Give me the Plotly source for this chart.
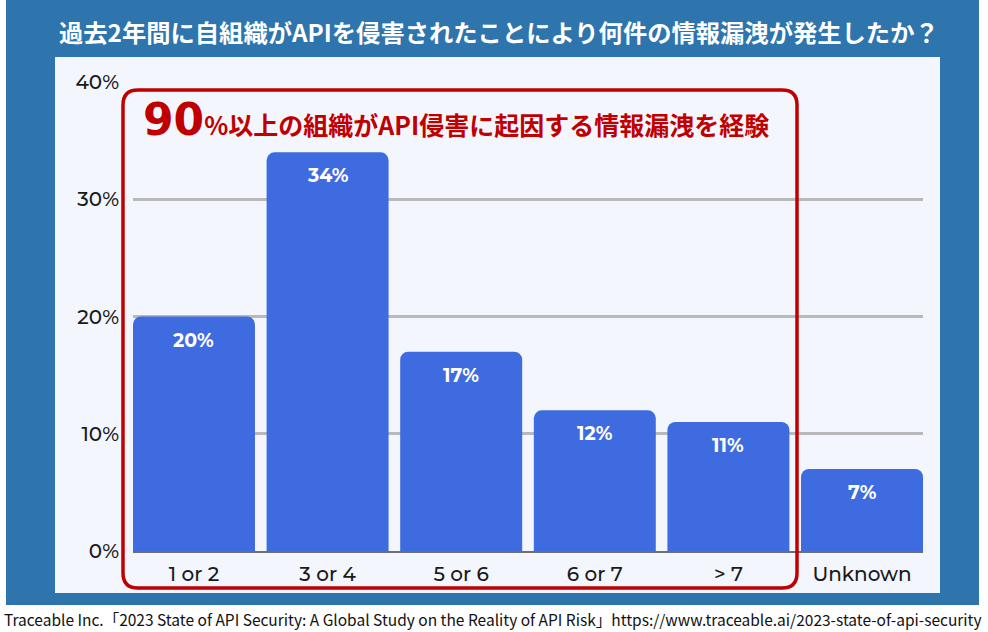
import plotly.graph_objects as go

categories = ["1 or 2", "3 or 4", "5 or 6", "6 or 7", "> 7", "Unknown"]
values = [20, 34, 17, 12, 11, 7]
y_ticks = [0, 10, 20, 30, 40]
y_tick_labels = ["0%", "10%", "20%", "30%", "40%"]
title_text = "過去2年間に自組織がAPIを侵害されたことにより何件の情報漏洩が発生したか？"
callout_big = "90"
callout_rest = "%以上の組織がAPI侵害に起因する情報漏洩を経験"
source_text = "Traceable Inc.「2023 State of API Security: A Global Study on the Reality of API Risk」https://www.traceable.ai/2023-state-of-api-security"

W, H = 988, 632
L, R, T, B = 133, 923, 82, 551  # plot area in pixels
BAR_FRAC = 0.913


def px(x, y):
    return (x - L) / (R - L), (B - y) / (B - T)


def rect(x0, y0, x1, y1):
    a = px(x0, y1)
    b = px(x1, y0)
    return dict(x0=a[0], y0=a[1], x1=b[0], y1=b[1])


def rounded_path(x0, y0, x1, y1, r):
    pts = [
        ("M", (x0 + r, y0)), ("L", (x1 - r, y0)), ("Q", (x1, y0), (x1, y0 + r)),
        ("L", (x1, y1 - r)), ("Q", (x1, y1), (x1 - r, y1)),
        ("L", (x0 + r, y1)), ("Q", (x0, y1), (x0, y1 - r)),
        ("L", (x0, y0 + r)), ("Q", (x0, y0), (x0 + r, y0)),
    ]
    s = ""
    for item in pts:
        cmd = item[0]
        coords = " ".join("%.5f,%.5f" % px(*p) for p in item[1:])
        s += cmd + coords + " "
    return s + "Z"


TICK_FONT = "Montserrat, Inter, sans-serif"

fig = go.Figure()
fig.add_trace(go.Bar(
    x=categories, y=values,
    marker=dict(color="#3e6be0", cornerradius=8, line=dict(width=0)),
    hoverinfo="skip",
))

for c, v in zip(categories, values):
    fig.add_annotation(x=c, y=v, text=f"<b>{v}%</b>", showarrow=False,
                       yanchor="top", yshift=-10,
                       font=dict(family=TICK_FONT, size=19, color="white"))

shapes = []
shapes.append(dict(type="rect", xref="paper", yref="paper", layer="below",
                   fillcolor="#2e74ad", line=dict(width=0), **rect(6, 0, 979, 605)))
shapes.append(dict(type="rect", xref="paper", yref="paper", layer="below",
                   fillcolor="#f3f6fd", line=dict(width=0), **rect(55, 57, 940, 593)))
shapes.append(dict(type="path", xref="paper", yref="paper", layer="above",
                   path=rounded_path(123, 90, 797, 588, 15),
                   line=dict(color="#c00000", width=3.5)))

fig.add_annotation(xref="paper", yref="paper", x=px(499, 32)[0], y=px(499, 32)[1],
                   text=f"<b>{title_text}</b>", showarrow=False,
                   xanchor="center", yanchor="middle",
                   font=dict(family="Noto Sans CJK JP", size=24.3, color="white"))

fig.add_annotation(xref="paper", yref="paper", x=px(141, 119)[0], y=px(141, 119)[1],
                   text=f"<b><span style='font-size:44px;font-family:DejaVu Sans'>{callout_big}</span>{callout_rest}</b>",
                   showarrow=False, xanchor="left", yanchor="middle",
                   font=dict(family="Noto Sans CJK JP", size=25, color="#c00000"))

fig.add_annotation(xref="paper", yref="paper", x=px(493, 619)[0], y=px(493, 619)[1],
                   text=source_text, showarrow=False, xanchor="center", yanchor="middle",
                   font=dict(family="Noto Sans CJK JP", size=15.5, color="#111111"))

half_gap = (1 - BAR_FRAC) / 2
fig.update_layout(
    width=W, height=H,
    margin=dict(l=L, r=W - R, t=T, b=H - B),
    paper_bgcolor="white", plot_bgcolor="rgba(0,0,0,0)",
    showlegend=False, bargap=1 - BAR_FRAC,
    shapes=shapes,
    xaxis=dict(showline=True, linecolor="#6e6e6e", linewidth=2, ticks="",
               range=[-0.5 + half_gap, len(categories) - 0.5 - half_gap],
               tickfont=dict(family=TICK_FONT, size=20, color="#1a1a1a", weight=500),
               ticklabelstandoff=4, fixedrange=True),
    yaxis=dict(range=[0, 40], tickvals=y_ticks, ticktext=y_tick_labels,
               showgrid=True, gridcolor="#b9b9b9", gridwidth=3, zeroline=False,
               tickfont=dict(family=TICK_FONT, size=20, color="#1a1a1a", weight=500),
               ticklabelstandoff=13, fixedrange=True),
)

fig.write_html("out.html")
